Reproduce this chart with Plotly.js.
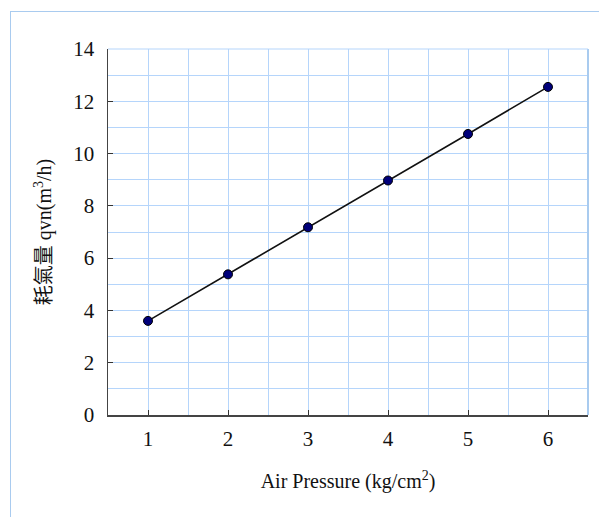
<!DOCTYPE html>
<html>
<head>
<meta charset="utf-8">
<script src="https://cdn.plot.ly/plotly-3.0.1.min.js"></script>
<style>
html,body{margin:0;padding:0;background:#fff;}
#wrap{position:relative;width:599px;height:517px;}
#chart{width:599px;height:517px;}
#frame{position:absolute;left:10px;top:11px;width:589px;height:506px;border-top:1px solid #a9cbef;border-left:1px solid #a9cbef;pointer-events:none;box-sizing:border-box;}
</style>
</head>
<body>
<div id="wrap"><div id="chart"></div><div id="frame"></div></div>
<script>
var pressure = [1, 2, 3, 4, 5, 6];
var consumption = [3.6, 5.38, 7.18, 8.97, 10.75, 12.55];
var xTickLabels = ['1', '2', '3', '4', '5', '6'];

var gridColor = '#b5d5fb';
var serif = 'Liberation Serif, Times New Roman, Noto Sans CJK TC, serif';

var trace = {
  x: pressure,
  y: consumption,
  type: 'scatter',
  mode: 'lines+markers',
  line: {color: '#111111', width: 1.6},
  marker: {color: '#00007a', size: 9, line: {color: '#000000', width: 1}},
  hoverinfo: 'x+y'
};

var layout = {
  width: 599,
  height: 517,
  margin: {l: 108, r: 11, t: 49, b: 102},
  paper_bgcolor: '#ffffff',
  plot_bgcolor: '#ffffff',
  showlegend: false,
  font: {family: serif, color: '#111111', size: 18},
  xaxis: {
    range: [0.5, 6.5],
    tickvals: pressure,
    ticktext: xTickLabels,
    ticks: 'inside',
    ticklen: 5,
    tickcolor: '#333333',
    showline: true,
    linecolor: '#444444',
    linewidth: 1.5,
    showgrid: true,
    gridcolor: gridColor,
    gridwidth: 1,
    minor: {tickvals: [0.5, 1.5, 2.5, 3.5, 4.5, 5.5, 6.5], showgrid: true, gridcolor: gridColor, gridwidth: 1, ticks: ''},
    zeroline: false,
    ticklabelstandoff: 4,
    tickfont: {family: serif, size: 21, color: '#111111'},
    title: {text: 'Air Pressure (kg/cm<sup>2</sup>)', font: {family: serif, size: 20, color: '#111111'}, standoff: 24}
  },
  yaxis: {
    range: [0, 14],
    dtick: 2,
    tick0: 0,
    ticks: 'inside',
    ticklen: 5,
    tickcolor: '#333333',
    showline: true,
    linecolor: '#444444',
    linewidth: 1.5,
    showgrid: true,
    gridcolor: gridColor,
    gridwidth: 1,
    minor: {dtick: 1, tick0: 0, showgrid: true, gridcolor: gridColor, gridwidth: 1, ticks: ''},
    zeroline: false,
    ticklabelstandoff: 8,
    tickfont: {family: serif, size: 21, color: '#111111'},
    title: {text: '耗氣量 qvn(m<sup>3</sup>/h)', font: {family: serif, size: 20, color: '#111111'}, standoff: 16}
  },
  shapes: [
    {type: 'line', xref: 'paper', yref: 'paper', x0: 1, x1: 1, y0: 0, y1: 1, line: {color: '#a9cbef', width: 2}},
    {type: 'line', xref: 'paper', yref: 'paper', x0: 0, x1: 1, y0: 1, y1: 1, line: {color: gridColor, width: 1}}
  ]
};

Plotly.newPlot('chart', [trace], layout, {displayModeBar: false, staticPlot: true});
</script>
</body>
</html>
